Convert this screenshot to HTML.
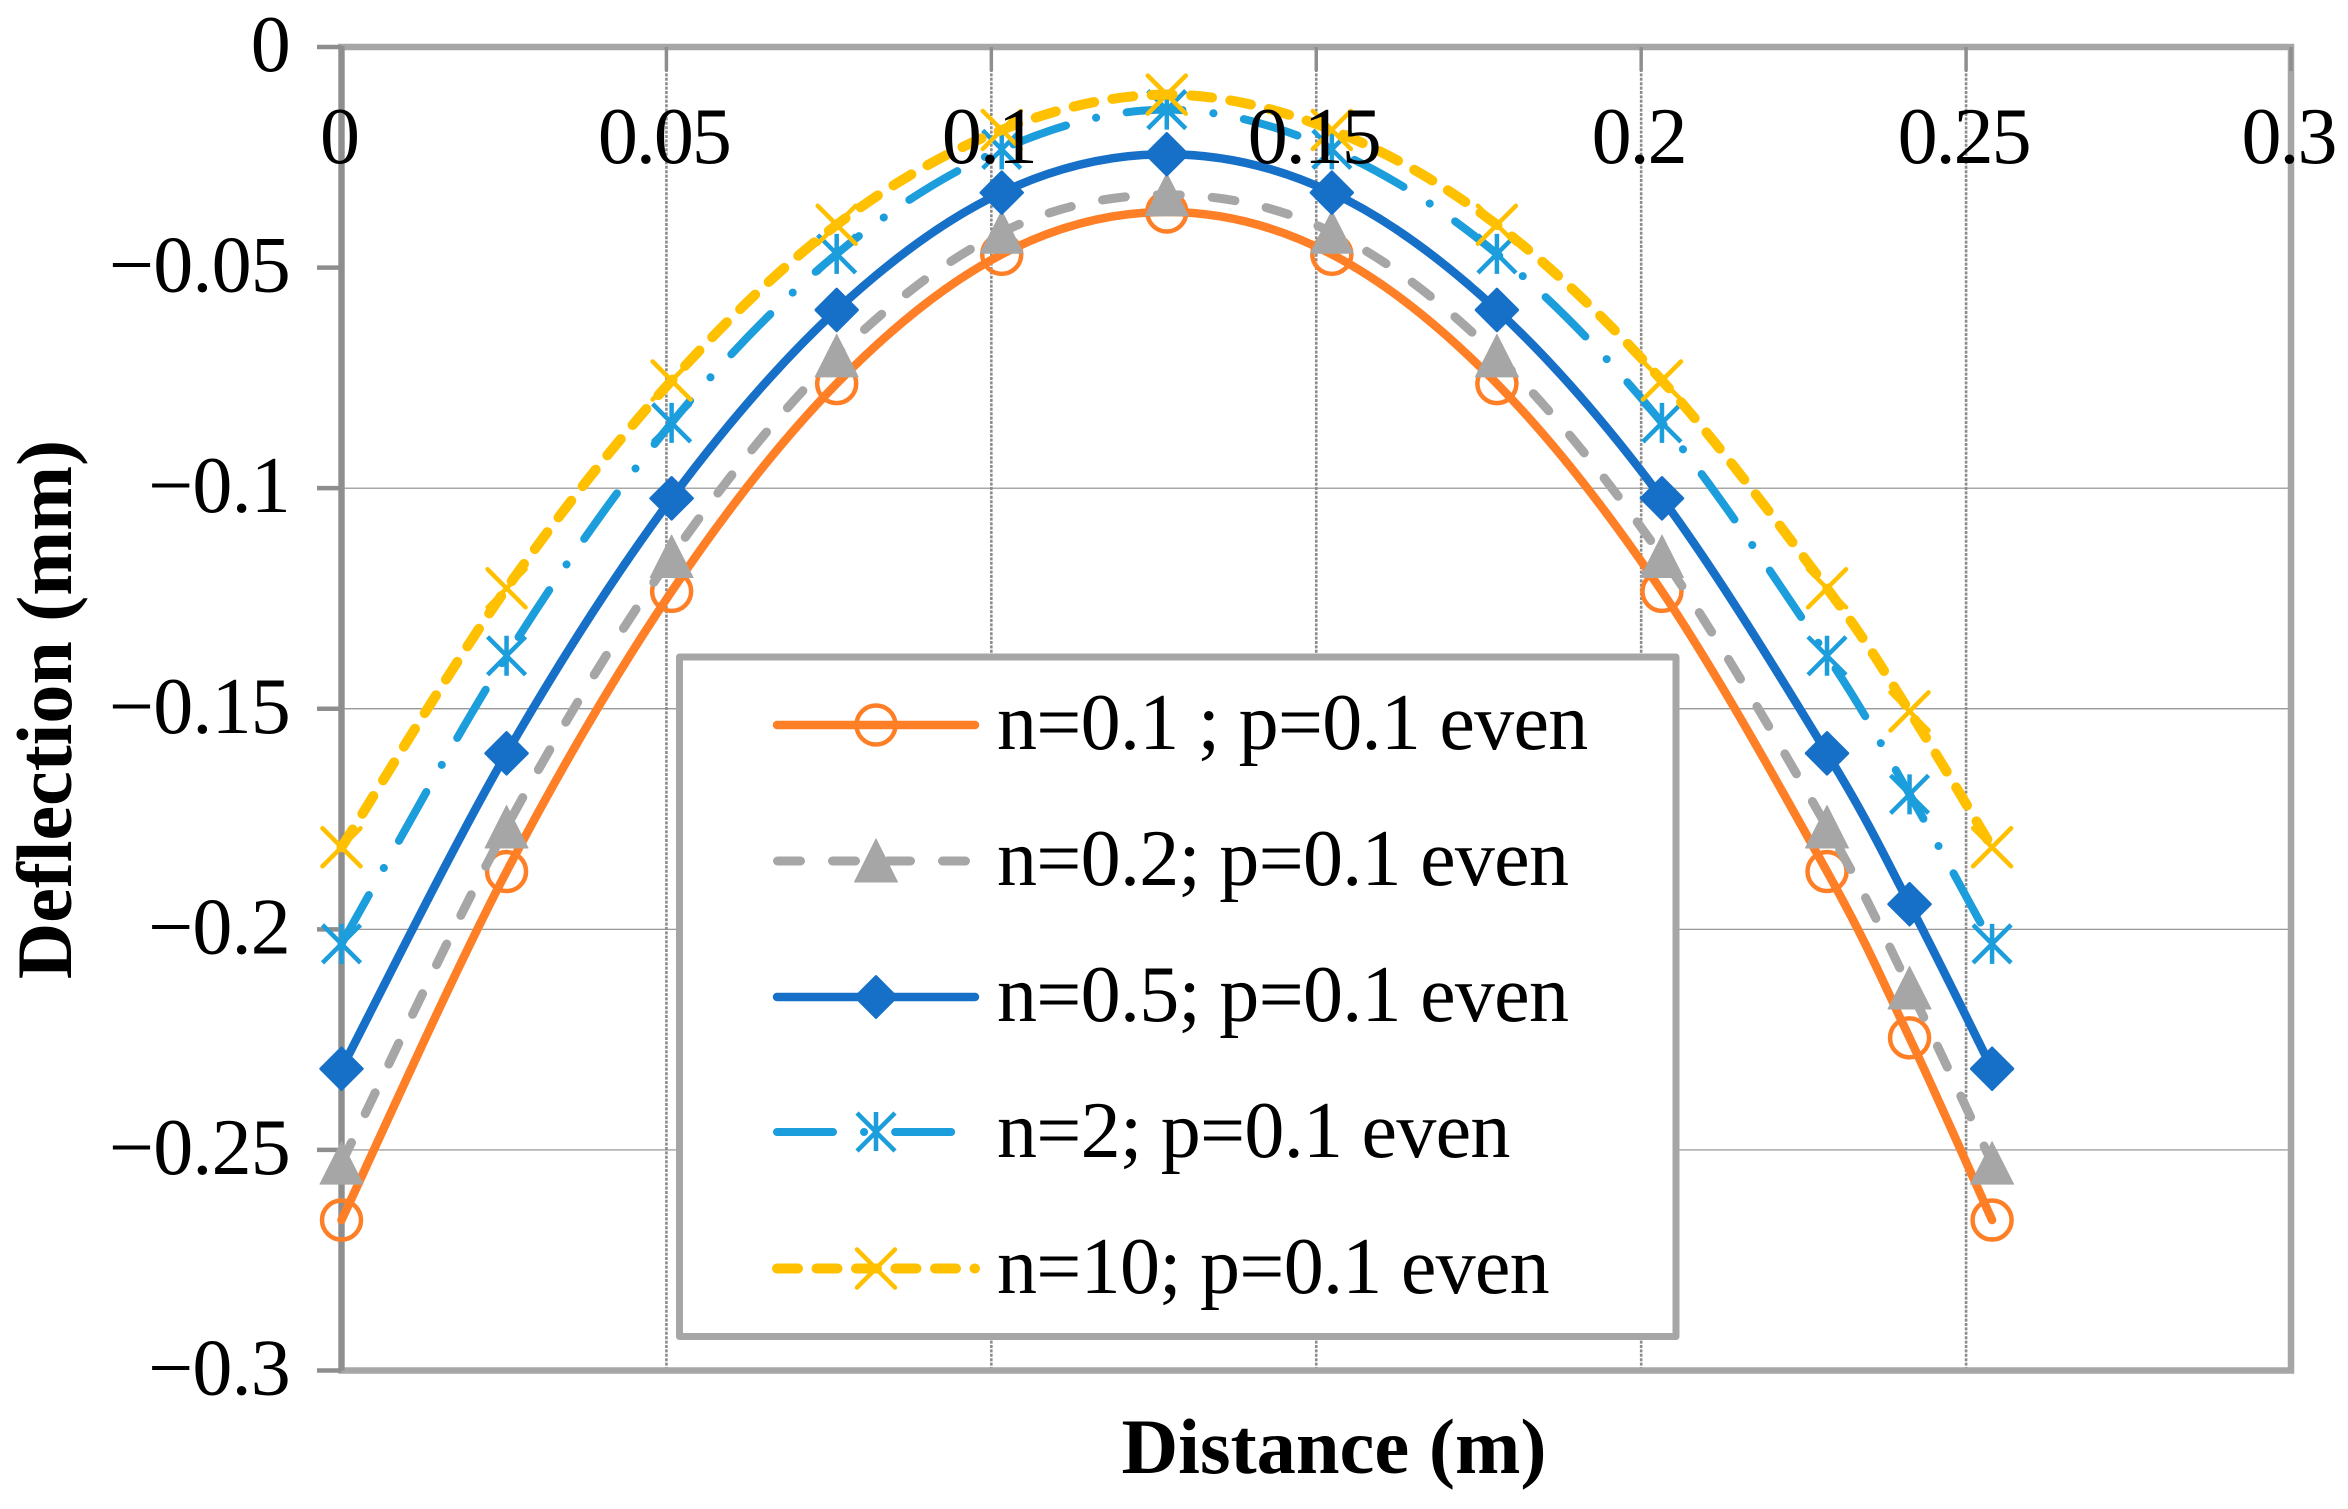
<!DOCTYPE html>
<html lang="en">
<head>
<meta charset="utf-8">
<title>Deflection vs Distance</title>
<style>
html,body{margin:0;padding:0;background:#fff;}
svg{display:block;}
text{font-family:"Liberation Serif","Times New Roman",serif;fill:#000;}
</style>
</head>
<body>
<svg id="chart" xmlns="http://www.w3.org/2000/svg" width="2348" height="1509" viewBox="0 0 2348 1509">
  <rect x="0" y="0" width="2348" height="1509" fill="#fff"/>
  <g id="grid"></g>
  <g id="frame"></g>
  <g id="series"></g>
  <g id="legend">
    <rect x="679.5" y="657" width="996.5" height="679.5" fill="#fff" stroke="#a6a6a6" stroke-width="7" stroke-linejoin="round"/>
    <g>
      <line x1="777" y1="725" x2="975" y2="725" stroke="#ff7f27" stroke-width="8.5" stroke-linecap="round"/>
      <circle cx="876" cy="725" r="19.5" fill="none" stroke="#ff7f27" stroke-width="4.5"/>
      <text x="997" y="749" font-size="80" letter-spacing="-0.72">n=0.1 ; p=0.1 even</text>
    </g>
    <g>
      <line x1="777.5" y1="861" x2="975" y2="861" stroke="#a6a6a6" stroke-width="9" stroke-linecap="round" stroke-dasharray="23 32"/>
      <polygon points="876,839 897.5,882 854.5,882" fill="#a6a6a6" stroke="#a6a6a6" stroke-width="1" stroke-linejoin="round"/>
      <text x="997" y="885" font-size="80" letter-spacing="-0.72">n=0.2; p=0.1 even</text>
    </g>
    <g>
      <line x1="777" y1="997" x2="975" y2="997" stroke="#1770c8" stroke-width="8.5" stroke-linecap="round"/>
      <polygon points="876,976 897,997 876,1018 855,997" fill="#1770c8" stroke="#1770c8" stroke-width="2" stroke-linejoin="round"/>
      <text x="997" y="1021" font-size="80" letter-spacing="-0.72">n=0.5; p=0.1 even</text>
    </g>
    <g>
      <line x1="777" y1="1132" x2="975" y2="1132" stroke="#1c9ddc" stroke-width="8" stroke-linecap="round" stroke-dasharray="56 31 0.1 31"/>
      <path d="M857 1113L895 1151M895 1113L857 1151M876 1112V1151" fill="none" stroke="#1c9ddc" stroke-width="4.5"/>
      <text x="997" y="1157" font-size="80" letter-spacing="-0.72">n=2; p=0.1 even</text>
    </g>
    <g>
      <line x1="777" y1="1268.5" x2="975" y2="1268.5" stroke="#ffc000" stroke-width="10" stroke-linecap="round" stroke-dasharray="21 18.5"/>
      <path d="M857 1249.5L895 1287.5M895 1249.5L857 1287.5" fill="none" stroke="#ffc000" stroke-width="4.5" stroke-linecap="round"/>
      <text x="997" y="1293" font-size="80" letter-spacing="-0.72">n=10; p=0.1 even</text>
    </g>
  </g>
  <g id="labels"></g>
  <text x="1334" y="1473" font-size="78.5" font-weight="bold" text-anchor="middle">Distance (m)</text>
  <text transform="translate(71 709.5) rotate(-90)" x="0" y="0" font-size="78" font-weight="bold" text-anchor="middle">Deflection (mm)</text>
</svg>
<script>
var xValues = [0, 0.0254, 0.0508, 0.0762, 0.1016, 0.127, 0.1524, 0.1778, 0.2032, 0.2286, 0.2413, 0.254];
var seriesN01 = [-0.2659, -0.1869, -0.1234, -0.0763, -0.0470, -0.0374, -0.0470, -0.0763, -0.1234, -0.1869, -0.2246, -0.2659];
var seriesN02 = [-0.2530, -0.1768, -0.1155, -0.0700, -0.0420, -0.0335, -0.0420, -0.0700, -0.1155, -0.1768, -0.2133, -0.2530];
var seriesN05 = [-0.2316, -0.1601, -0.1023, -0.0596, -0.0330, -0.0243, -0.0330, -0.0596, -0.1023, -0.1601, -0.1943, -0.2316];
var seriesN2 = [-0.2033, -0.1380, -0.0852, -0.0469, -0.0232, -0.0142, -0.0232, -0.0469, -0.0852, -0.1380, -0.1694, -0.2033];
var seriesN10 = [-0.1814, -0.1227, -0.0756, -0.0403, -0.0188, -0.0108, -0.0188, -0.0403, -0.0756, -0.1227, -0.1506, -0.1814];
var xTicks = [0, 0.05, 0.1, 0.15, 0.2, 0.25, 0.3];
var yTicks = [0, -0.05, -0.1, -0.15, -0.2, -0.25, -0.3];
var yGridTicks = [-0.1, -0.15, -0.2, -0.25];
var xTickLabels = ['0', '0.05', '0.1', '0.15', '0.2', '0.25', '0.3'];
var yTickLabels = ['0', '\u22120.05', '\u22120.1', '\u22120.15', '\u22120.2', '\u22120.25', '\u22120.3'];

var NS = 'http://www.w3.org/2000/svg';
var plotLeft = 341.5, plotRight = 2291, plotTop = 47, plotBottom = 1370.5;
function sx(v) { return plotLeft + (v - 0) / 0.3 * (plotRight - plotLeft); }
function sy(v) { return plotTop + (0 - v) / 0.3 * (plotBottom - plotTop); }
function make(tag, attrs, parent) {
  var el = document.createElementNS(NS, tag);
  for (var k in attrs) { el.setAttribute(k, attrs[k]); }
  parent.appendChild(el);
  return el;
}
var grid = document.getElementById('grid');
var frame = document.getElementById('frame');
var seriesGroup = document.getElementById('series');
var labels = document.getElementById('labels');

yGridTicks.forEach(function (t) {
  var y = sy(t);
  var g = make('line', {x1: plotLeft, y1: y, x2: plotRight, y2: y, stroke: '#8c8c8c', 'stroke-width': 1.2}, grid);
  
  
});
xTicks.forEach(function (t, i) {
  var x = sx(t);
  if (i > 0 && i < xTicks.length - 1) {
    var g = make('line', {x1: x, y1: plotTop, x2: x, y2: plotBottom, stroke: '#8c8c8c', 'stroke-width': 2.6, 'stroke-dasharray': '3 1.4'}, grid);
    
    
  }
});

var border = make('rect', {x: plotLeft, y: plotTop, width: plotRight - plotLeft, height: plotBottom - plotTop, fill: 'none', stroke: '#a6a6a6', 'stroke-width': 6.5}, frame);


var leftAxis = make('line', {x1: plotLeft, y1: plotTop - 1, x2: plotLeft, y2: plotBottom, stroke: '#8e8e8e', 'stroke-width': 6}, frame);


yTicks.forEach(function (t) {
  var y = sy(t);
  var m = make('line', {x1: 317, y1: y, x2: plotLeft, y2: y, stroke: '#8e8e8e', 'stroke-width': 4.5}, frame);
  
  
});
xTicks.forEach(function (t) {
  var x = sx(t);
  var m = make('line', {x1: x, y1: plotTop, x2: x, y2: plotTop + 24, stroke: '#8e8e8e', 'stroke-width': 3.5}, frame);
  
  
});

function smoothPath(xs, ys) {
  var pts = xs.map(function (v, i) { return [sx(v), sy(ys[i])]; });
  var d = 'M' + pts[0][0].toFixed(2) + ' ' + pts[0][1].toFixed(2);
  for (var i = 0; i < pts.length - 1; i++) {
    var p0 = pts[Math.max(i - 1, 0)], p1 = pts[i], p2 = pts[i + 1], p3 = pts[Math.min(i + 2, pts.length - 1)];
    var c1x = p1[0] + (p2[0] - p0[0]) / 6, c1y = p1[1] + (p2[1] - p0[1]) / 6;
    var c2x = p2[0] - (p3[0] - p1[0]) / 6, c2y = p2[1] - (p3[1] - p1[1]) / 6;
    d += 'C' + c1x.toFixed(2) + ' ' + c1y.toFixed(2) + ' ' + c2x.toFixed(2) + ' ' + c2y.toFixed(2) + ' ' + p2[0].toFixed(2) + ' ' + p2[1].toFixed(2);
  }
  return d;
}

function drawMarker(kind, x, y, color, parent) {
  var el;
  if (kind === 'circle') {
    el = make('circle', {cx: x, cy: y, r: 19.5, fill: 'none', stroke: color, 'stroke-width': 4.5}, parent);
  } else if (kind === 'triangle') {
    el = make('polygon', {points: x + ',' + (y - 21.5) + ' ' + (x + 21.5) + ',' + (y + 21) + ' ' + (x - 21.5) + ',' + (y + 21), fill: color, stroke: color, 'stroke-width': 1, 'stroke-linejoin': 'round'}, parent);
  } else if (kind === 'diamond') {
    el = make('polygon', {points: x + ',' + (y - 21) + ' ' + (x + 21) + ',' + y + ' ' + x + ',' + (y + 21) + ' ' + (x - 21) + ',' + y, fill: color, stroke: color, 'stroke-width': 2.5, 'stroke-linejoin': 'round'}, parent);
  } else if (kind === 'star') {
    el = make('path', {d: 'M' + (x - 19) + ' ' + (y - 19) + 'L' + (x + 19) + ' ' + (y + 19) + 'M' + (x + 19) + ' ' + (y - 19) + 'L' + (x - 19) + ' ' + (y + 19) + 'M' + x + ' ' + (y - 20) + 'V' + (y + 20), fill: 'none', stroke: color, 'stroke-width': 4.5}, parent);
  } else {
    el = make('path', {d: 'M' + (x - 19) + ' ' + (y - 19) + 'L' + (x + 19) + ' ' + (y + 19) + 'M' + (x + 19) + ' ' + (y - 19) + 'L' + (x - 19) + ' ' + (y + 19), fill: 'none', stroke: color, 'stroke-width': 4.5, 'stroke-linecap': 'round'}, parent);
  }
  
  
}

function drawSeries(name, values, color, width, dash, kind) {
  var g = make('g', {}, seriesGroup);
  
  
  var attrs = {d: smoothPath(xValues, values), fill: 'none', stroke: color, 'stroke-width': width, 'stroke-linecap': 'round', 'stroke-linejoin': 'round'};
  if (dash) { attrs['stroke-dasharray'] = dash; }
  var line = make('path', attrs, g);
  
  
  values.forEach(function (v, i) {
    drawMarker(kind, sx(xValues[i]), sy(v), color, g);
  });
}
drawSeries('n-0-1', seriesN01, '#ff7f27', 8.5, null, 'circle');
drawSeries('n-0-2', seriesN02, '#a6a6a6', 9, '23 32', 'triangle');
drawSeries('n-0-5', seriesN05, '#1770c8', 8.5, null, 'diamond');
drawSeries('n-2', seriesN2, '#1c9ddc', 8, '56 31 0.1 31', 'star');
drawSeries('n-10', seriesN10, '#ffc000', 10, '21 18.5', 'x');

xTicks.forEach(function (t, i) {
  var el = make('text', {x: sx(t) - 2.5, y: 163, 'font-size': 80, 'letter-spacing': -2, 'text-anchor': 'middle'}, labels);
  el.textContent = xTickLabels[i];
  
  
});
yTicks.forEach(function (t, i) {
  var el = make('text', {x: 290, y: sy(t) + 24, 'font-size': 80, 'letter-spacing': -0.8, 'text-anchor': 'end'}, labels);
  el.textContent = yTickLabels[i];
  
  
});
</script>
</body>
</html>
